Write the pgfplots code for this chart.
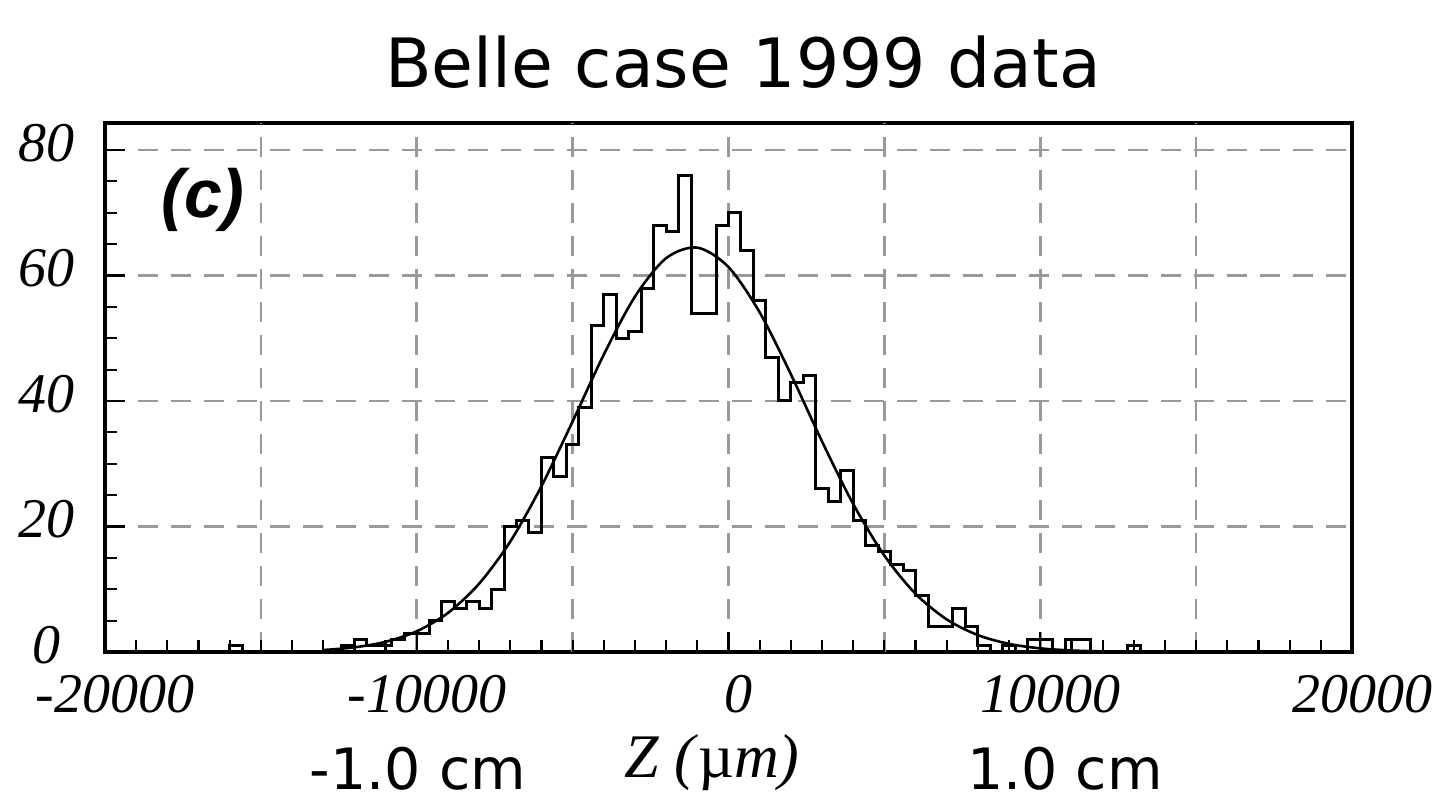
\documentclass[border=0pt]{standalone}
\usepackage{fontspec}
\usepackage{pgfplots}
\pgfplotsset{compat=1.18}
\setmainfont{Liberation Serif}
\newfontfamily\titlefont{DejaVu Sans}
\newfontfamily\cfont{Liberation Sans}
\begin{document}
\begin{tikzpicture}
\path[use as bounding box] (-52.5pt,-77.5pt) rectangle (665pt,326pt);
\begin{axis}[
  at={(0pt,0pt)}, anchor=south west,
  scale only axis, width=623.5pt, height=264.5pt,
  xmin=-20000, xmax=20000, ymin=0, ymax=84.3,
  scaled x ticks=false,
  xtick={-20000,-10000,0,10000,20000},
  xticklabels={-20000,-10000,0,10000,20000},
  extra x ticks={-15000,-5000,5000,15000},
  extra x tick labels={},
  extra x tick style={grid=major, major tick length=6pt},
  ytick={0,20,40,60,80},
  yticklabels={0,20,40,60,80},
  minor x tick num=9,
  minor y tick num=3,
  xtick pos=bottom, ytick pos=left,
  tick align=inside,
  major tick length=10pt, minor tick length=6pt,
  tick style={black, line width=1.1pt},
  axis line style={line width=1.6pt},
  xmajorgrids, ymajorgrids,
  major grid style={gray!80, line width=1.3pt, dash pattern=on 10pt off 6.5pt},
  ticklabel style={font=\itshape\fontsize{28}{30}\selectfont, inner sep=1pt},
  xticklabel style={yshift=-10.5pt, xshift=5pt},
  yticklabel style={anchor=center, xshift=-29pt, yshift=3.5pt},
]
\addplot[const plot mark left, black, line width=1.5pt] coordinates {
(-20000,0) (-16400,0) (-16000,1) (-15600,0)
(-12400,1) (-12000,2) (-11600,1) (-11200,1) (-10800,2) (-10400,3)
(-10000,3) (-9600,5) (-9200,8) (-8800,7) (-8400,8) (-8000,7) (-7600,10)
(-7200,20) (-6800,21) (-6400,19) (-6000,31) (-5600,28) (-5200,33)
(-4800,39) (-4400,52) (-4000,57) (-3600,50) (-3200,51) (-2800,58)
(-2400,68) (-2000,67) (-1600,76) (-1200,54) (-800,54) (-400,68)
(0,70) (400,64) (800,56) (1200,47) (1600,40) (2000,43) (2400,44)
(2800,26) (3200,24) (3600,29) (4000,21) (4400,17) (4800,16) (5200,14)
(5600,13) (6000,9) (6400,4) (6800,4) (7200,7) (7600,4) (8000,1)
(8400,0) (8800,1) (9200,0) (9600,2) (10000,2) (10400,0) (10800,2)
(11200,2) (11600,0) (12800,1) (13200,0) (20000,0)
};
\addplot[smooth, black, line width=1.3pt] coordinates {
(-13000,0.31) (-12000,0.74) (-11000,1.62) (-10000,3.30) (-9000,6.22)
(-8000,10.88) (-7000,17.60) (-6000,26.42) (-5000,36.75) (-4000,47.40)
(-3000,56.64) (-2000,62.76) (-1000,64.44) (0,61.34) (1000,54.12)
(2000,44.26) (3000,33.55) (4000,23.58) (5000,15.36) (6000,9.27)
(7000,5.19) (8000,2.69) (9000,1.29) (10000,0.58) (11000,0.24)
(12000,0.09) (13000,0.03)
};
\end{axis}
\node[anchor=base, font=\titlefont\fontsize{34}{36}\selectfont] at (319pt,282pt) {Belle case 1999 data};
\node[font=\cfont\bfseries\itshape\fontsize{34}{36}\selectfont] at (49pt,226pt) {(c)};
\node[anchor=base, font=\fontsize{31}{33}\selectfont] at (303.5pt,-63pt) {\textit{Z (}µ\textit{m)}};
\node[anchor=base, font=\titlefont\fontsize{28.5}{30}\selectfont] at (156.5pt,-69pt) {-1.0 cm};
\node[anchor=base, font=\titlefont\fontsize{28.5}{30}\selectfont] at (480pt,-69pt) {1.0 cm};
\end{tikzpicture}
\end{document}
